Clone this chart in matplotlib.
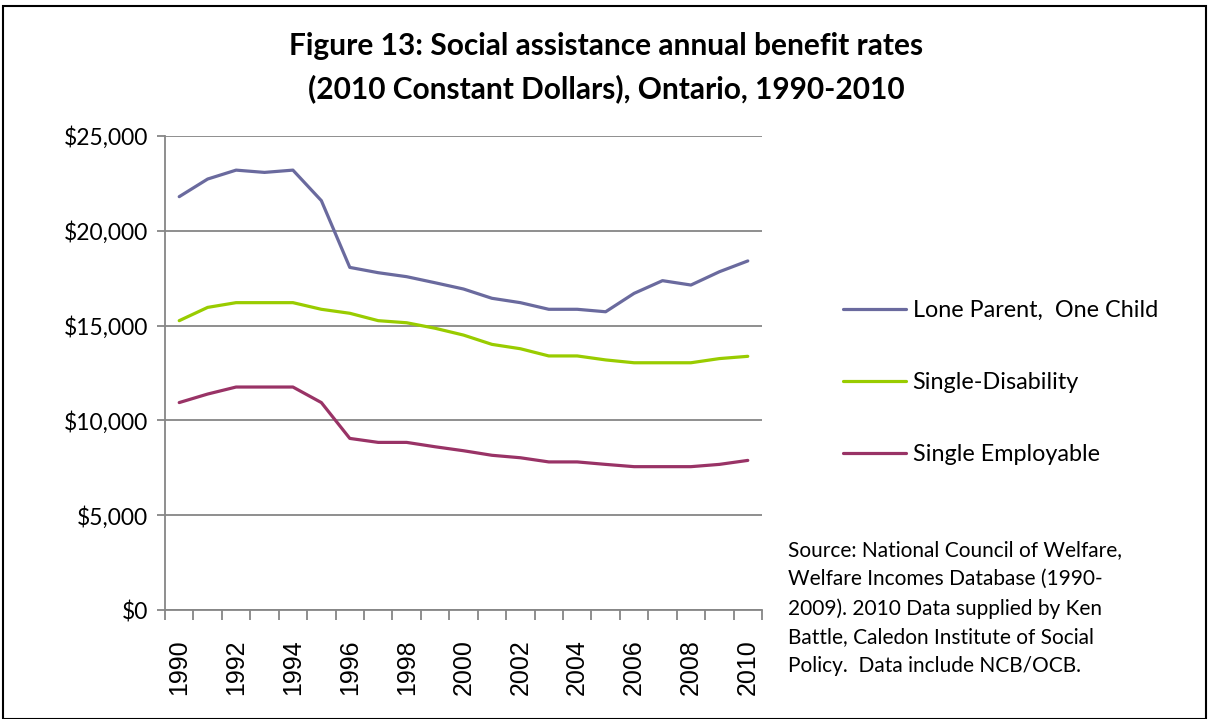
import matplotlib
matplotlib.use("Agg")
import matplotlib.pyplot as plt
from matplotlib.patches import Rectangle
from matplotlib.ticker import FuncFormatter, FixedLocator

years = list(range(1990, 2011))
lone_parent = [21800, 22730, 23200, 23080, 23200, 21590, 18070, 17790, 17580, 17260,
               16930, 16440, 16210, 15860, 15860, 15730, 16700, 17370, 17140, 17840, 18410]
single_disability = [15260, 15960, 16210, 16210, 16210, 15860, 15650, 15260, 15150, 14860,
                     14500, 14010, 13780, 13400, 13400, 13190, 13040, 13040, 13040, 13260, 13380]
single_employable = [10940, 11390, 11760, 11760, 11760, 10940, 9050, 8840, 8840, 8610,
                     8400, 8160, 8030, 7810, 7810, 7680, 7560, 7560, 7560, 7680, 7890]
series_names = ["Lone Parent,  One Child", "Single-Disability", "Single Employable"]
colors = ["#6A6A9E", "#99CC00", "#993366"]

title = "Figure 13: Social assistance annual benefit rates\n(2010 Constant Dollars), Ontario, 1990-2010"
source = ("Source: National Council of Welfare,\nWelfare Incomes Database (1990-\n"
          "2009). 2010 Data supplied by Ken\nBattle, Caledon Institute of Social\n"
          "Policy.  Data include NCB/OCB.")

plt.rcParams["font.family"] = ["Lato", "DejaVu Sans"]

W, H = 1209, 719
fig = plt.figure(figsize=(W / 100, H / 100), dpi=100)
ax = fig.add_axes([165 / W, 1 - 610 / H, (762 - 165) / W, (610 - 136) / H])

xs = list(range(len(years)))
for vals, name, c in zip([lone_parent, single_disability, single_employable], series_names, colors):
    ax.plot(xs, vals, color=c, lw=2.3, label=name, solid_capstyle="round", solid_joinstyle="round")

ax.set_xlim(-0.5, len(years) - 0.5)
ax.set_ylim(0, 25000)
ax.set_yticks(range(0, 25001, 5000))
ax.yaxis.set_major_formatter(FuncFormatter(lambda v, p: "${:,.0f}".format(v)))
ax.grid(axis="y", color="#868686", lw=1.3)
ax.set_axisbelow(True)

ax.xaxis.set_major_locator(FixedLocator(xs[::2]))
ax.set_xticklabels([str(y) for y in years[::2]], rotation=90, family="Liberation Sans", fontsize=18)
ax.xaxis.set_minor_locator(FixedLocator([i - 0.5 for i in range(len(years) + 1)]))
ax.tick_params(axis="x", which="major", length=0, pad=21)
ax.tick_params(axis="x", which="minor", length=7, width=1.3, color="#868686", direction="out")
ax.tick_params(axis="y", length=6, width=1.3, color="#868686", labelsize=16.5, pad=6)

for s in ["top", "right"]:
    ax.spines[s].set_visible(False)
for s in ["left", "bottom"]:
    ax.spines[s].set_color("#868686")
    ax.spines[s].set_linewidth(1.3)

fig.text(606 / W, 1 - 32 / H, title, ha="center", va="top",
         fontsize=21.5, fontweight="bold", linespacing=1.6)

fig.legend(loc="upper left", bbox_to_anchor=(831 / W, 1 - 288 / H), frameon=False,
           fontsize=16.8, handlelength=2.7, handletextpad=0.3, labelspacing=2.2, borderpad=0)

fig.text(788 / W, 1 - 540 / H, source, ha="left", va="top", fontsize=15, linespacing=1.55)

fig.patches.append(Rectangle((3 / W, 0), 1203 / W, 1 - 6 / H, transform=fig.transFigure,
                             fill=False, ec="black", lw=1.5))

fig.savefig("out.png", dpi=100)
